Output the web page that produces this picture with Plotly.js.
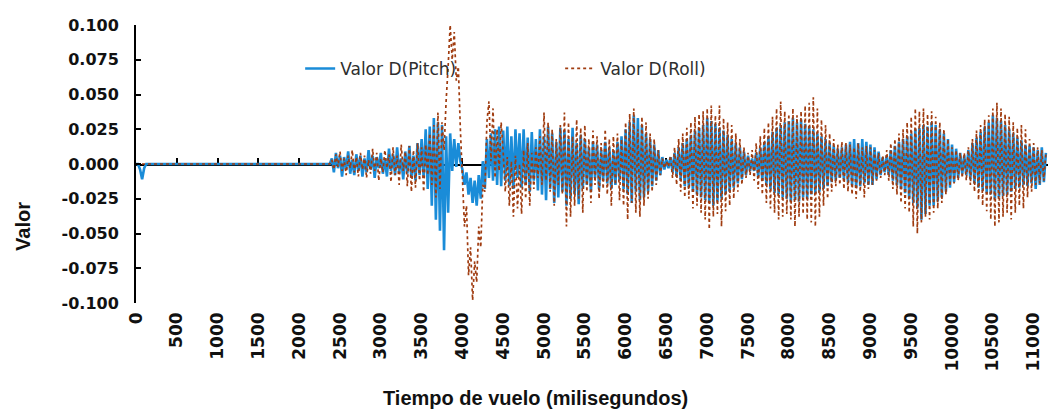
<!DOCTYPE html>
<html>
<head>
<meta charset="utf-8">
<script src="https://cdn.plot.ly/plotly-3.0.1.min.js"></script>
<style>html,body{margin:0;padding:0;background:#fff;}#chart{width:1048px;height:414px;}</style>
</head>
<body>
<div id="chart"></div>
<script>
// Sample spacing of the flight log (milliseconds)
const sampleStart = 0;
const sampleStep = 25;

const seriesNames = ["Valor D(Pitch)", "Valor D(Roll)"];

// ---- Valor D (Pitch) ----
const pitchIdle = [
0,0,-0.004,-0.011,-0.003,0,0,0,0,0,
0,0,0,0,0,0,0,0,0,0,
0,0,0,0,0,0,0,0,0,0,
0,0,0,0,0,0,0,0,0,0,
0,0,0,0,0,0,0,0,0,0,
0,0,0,0,0,0,0,0,0,0,
0,0,0,0,0,0,0,0,0,0,
0,0,0,0,0,0,0,0,0,0,
0,0,0,0,0,0,0,0,0,0,
0,0,0,0,0,0
];
const pitchNoise = [
0.004,-0.006,0.008,-0.003,0.006,-0.009,0.005,-0.004,0.009,-0.007,
0.003,-0.008,0.007,-0.005,0.006,-0.009,0.004,-0.006,0.010,-0.004,
0.006,-0.010,0.005,-0.003,0.008,-0.007,0.004,-0.009,0.011,-0.005,
0.007,-0.008,0.012,-0.006,0.004,-0.011,0.009,-0.007,0.013,-0.010,
0.006,-0.012,0.015,-0.008
];
const pitchBurst = [
0.018,-0.010,0.025,-0.018,0.027,-0.030,0.033,-0.040,0.030,-0.048,
0.028,-0.062,0.020,-0.035,0.022,-0.005,0.018,-0.002,0.015,0.002,
-0.004,-0.015,-0.006,-0.022,-0.010,-0.028,-0.012,-0.030,-0.008,-0.025,
0.002,-0.018,0.018,-0.010,0.022,-0.012,0.025,-0.015,0.027,-0.016
];
const pitchOsc = [
0.024,-0.012,0.027,-0.016,0.020,-0.018,0.025,-0.010,0.022,-0.017,
0.025,-0.014,0.019,-0.020,0.023,-0.012,0.018,-0.019,0.025,-0.022,
0.020,-0.026,0.027,-0.018,0.022,-0.028,0.016,-0.024,0.026,-0.020,
0.024,-0.030,0.018,-0.025,0.026,-0.022,0.015,-0.029,0.021,-0.018,
0.018,-0.015,0.012,-0.020,0.016,-0.010,0.014,-0.018,0.010,-0.012,
0.016,-0.014,0.012,-0.018,0.009,-0.015,0.016,-0.012,0.020,-0.018,
0.025,-0.022,0.030,-0.028,0.035,-0.020,0.033,-0.026,0.028,-0.024,
0.022,-0.020,0.018,-0.016,0.014,-0.012,0.010,-0.008,0.005,-0.004,
0.003,-0.003,0.005,-0.006,0.008,-0.009,0.012,-0.011,0.015,-0.016,
0.018,-0.017,0.021,-0.020,0.024,-0.022,0.026,-0.024,0.028,-0.026,
0.033,-0.028,0.031,-0.030,0.029,-0.027,0.026,-0.025,0.024,-0.022,
0.021,-0.020,0.018,-0.017,0.015,-0.014,0.012,-0.011,0.009,-0.008,
0.006,-0.005,0.004,-0.005,0.008,-0.009,0.012,-0.012,0.016,-0.015,
0.020,-0.018,0.023,-0.021,0.026,-0.022,0.028,-0.024,0.030,-0.025,
0.031,-0.027,0.033,-0.026,0.030,-0.027,0.032,-0.024,0.029,-0.025,
0.027,-0.022,0.025,-0.021,0.022,-0.020,0.020,-0.018,0.018,-0.016,
0.015,-0.013,0.013,-0.012,0.011,-0.010,0.012,-0.011,0.014,-0.013,
0.016,-0.015,0.018,-0.017,0.015,-0.016,0.018,-0.014,0.016,-0.015,
0.014,-0.015,0.012,-0.011,0.009,-0.008,0.005,-0.006,0.006,-0.008,
0.010,-0.012,0.013,-0.015,0.016,-0.018,0.018,-0.021,0.020,-0.025,
0.022,-0.028,0.025,-0.032,0.026,-0.040,0.028,-0.036,0.027,-0.030,
0.030,-0.030,0.028,-0.027,0.025,-0.024,0.022,-0.020,0.018,-0.017,
0.014,-0.013,0.011,-0.010,0.008,-0.007,0.006,-0.008,0.010,-0.011,
0.015,-0.014,0.019,-0.017,0.023,-0.019,0.027,-0.021,0.030,-0.022,
0.035,-0.025,0.033,-0.024,0.031,-0.023,0.028,-0.022,0.025,-0.020,
0.022,-0.018,0.019,-0.017,0.017,-0.015,0.014,-0.016,0.013,-0.014,
0.012,-0.018,0.010,-0.015,0.012,-0.013,0.008
];

// ---- Valor D (Roll) ----
const rollIdle = [
0,0,0,0,0,0,0,0,0,0,
0,0,0,0,0,0,0,0,0,0,
0,0,0,0,0,0,0,0,0,0,
0,0,0,0,0,0,0,0,0,0,
0,0,0,0,0,0,0,0,0,0,
0,0,0,0,0,0,0,0,0,0,
0,0,0,0,0,0,0,0,0,0,
0,0,0,0,0,0,0,0,0,0,
0,0,0,0,0,0,0,0,0,0,
0,0,0,0,0,0
];
const rollNoise = [
0.003,-0.004,0.007,-0.002,0.009,-0.005,0.004,-0.008,0.006,-0.003,
0.010,-0.006,0.005,-0.009,0.008,-0.004,0.006,-0.010,0.003,-0.007,
0.011,-0.005,0.008,-0.012,0.004,-0.006,0.010,-0.003,0.007,-0.013,
0.012,-0.008,0.006,-0.015,0.014,-0.005,0.009,-0.016,0.013,-0.020,
0.010,-0.017,0.015,-0.012
];
const rollBurst = [
0.012,-0.020,0.014,-0.008,0.022,-0.015,0.028,-0.024,0.037,-0.018,
0.030,0.010,0.045,0.070,0.100,0.075,0.095,0.060,0.070,0.025,
-0.010,-0.045,-0.030,-0.080,-0.060,-0.098,-0.070,-0.085,-0.045,-0.060,
-0.015,-0.020,0.030,0.045,0.002,0.040,-0.010,0.025,-0.005,0.030
];
const rollOsc = [
0.008,-0.020,0.005,-0.030,0.002,-0.038,0.006,-0.032,0.000,-0.036,
0.010,-0.025,0.015,-0.030,0.008,-0.018,0.012,-0.010,0.020,-0.015,
0.037,-0.012,0.030,-0.020,0.025,-0.030,0.018,-0.015,0.028,-0.022,
0.037,-0.045,0.030,-0.038,0.020,-0.030,0.032,-0.025,0.026,-0.035,
0.028,-0.020,0.018,-0.028,0.024,-0.015,0.020,-0.025,0.015,-0.018,
0.025,-0.022,0.018,-0.030,0.020,-0.015,0.022,-0.026,0.018,-0.030,
0.030,-0.040,0.036,-0.028,0.040,-0.035,0.025,-0.038,0.034,-0.030,
0.030,-0.025,0.022,-0.020,0.018,-0.015,0.010,-0.008,0.004,-0.003,
0.002,-0.002,0.006,-0.010,0.012,-0.015,0.018,-0.020,0.022,-0.024,
0.026,-0.025,0.030,-0.032,0.034,-0.030,0.036,-0.035,0.038,-0.040,
0.040,-0.047,0.042,-0.038,0.035,-0.036,0.042,-0.045,0.033,-0.034,
0.030,-0.030,0.028,-0.025,0.022,-0.020,0.018,-0.015,0.012,-0.010,
0.008,-0.008,0.010,-0.012,0.015,-0.018,0.020,-0.022,0.026,-0.028,
0.030,-0.032,0.034,-0.035,0.040,-0.040,0.045,-0.038,0.038,-0.036,
0.036,-0.040,0.040,-0.045,0.035,-0.038,0.038,-0.036,0.042,-0.040,
0.044,-0.042,0.048,-0.045,0.040,-0.038,0.032,-0.030,0.028,-0.025,
0.022,-0.020,0.018,-0.016,0.014,-0.015,0.016,-0.018,0.015,-0.020,
0.014,-0.022,0.012,-0.025,0.015,-0.020,0.012,-0.024,0.013,-0.018,
0.012,-0.015,0.010,-0.012,0.008,-0.010,0.006,-0.008,0.010,-0.012,
0.015,-0.018,0.018,-0.022,0.022,-0.028,0.025,-0.032,0.030,-0.035,
0.034,-0.045,0.040,-0.050,0.038,-0.042,0.040,-0.038,0.036,-0.040,
0.038,-0.035,0.034,-0.032,0.030,-0.028,0.025,-0.022,0.018,-0.016,
0.012,-0.014,0.010,-0.012,0.008,-0.010,0.008,-0.012,0.012,-0.015,
0.018,-0.020,0.024,-0.026,0.028,-0.030,0.032,-0.034,0.035,-0.040,
0.040,-0.045,0.044,-0.042,0.040,-0.038,0.036,-0.035,0.034,-0.040,
0.030,-0.035,0.026,-0.030,0.028,-0.032,0.025,-0.024,0.018,-0.020,
0.015,-0.015,0.012,-0.014,0.010,-0.012,0.008
];

// Axis tick labels
const yTickVals = [-0.1,-0.075,-0.05,-0.025,0,0.025,0.05,0.075,0.1];
const yTickText = ["-0.100","-0.075","-0.050","-0.025","0.000","0.025","0.050","0.075","0.100"];
const xTickStart = 0;
const xTickStep = 500;

const pitch = pitchIdle.concat(pitchNoise, pitchBurst, pitchOsc);
const roll = rollIdle.concat(rollNoise, rollBurst, rollOsc);

const xRange = [0, 11176];
const tickFont = {family: "DejaVu Sans", size: 16, weight: "bold", color: "#111111"};

const traces = [
  {
    type: "scatter", mode: "lines", name: seriesNames[0],
    x0: sampleStart, dx: sampleStep, y: pitch,
    line: {color: "#1a8cd8", width: 2.6, simplify: false},
    hoverinfo: "skip"
  },
  {
    type: "scatter", mode: "lines", name: seriesNames[1],
    x0: sampleStart, dx: sampleStep, y: roll,
    line: {color: "#a03c10", width: 1.7, dash: "dot", simplify: false},
    hoverinfo: "skip"
  },
  {
    type: "scatter", mode: "lines", x: [], y: [], xaxis: "x2", yaxis: "y",
    showlegend: false, hoverinfo: "skip"
  }
];

const layout = {
  width: 1048, height: 414,
  margin: {l: 136, r: 0, t: 25, b: 111},
  paper_bgcolor: "#ffffff", plot_bgcolor: "#ffffff",
  showlegend: true,
  legend: {
    orientation: "h", x: 0.18, y: 0.842, xanchor: "left", yanchor: "middle",
    bgcolor: "rgba(0,0,0,0)", font: {family: "DejaVu Sans", size: 17, color: "#2e2e2e"},
    entrywidth: 215, entrywidthmode: "pixels"
  },
  xaxis: {
    range: xRange, tick0: xTickStart, dtick: xTickStep, tickmode: "linear",
    tickangle: -90, tickformat: "d", ticks: "", showline: false, showgrid: false,
    zeroline: false, tickfont: {family: "DejaVu Sans", size: 17, weight: "bold", color: "#111111"},
    ticklabelstandoff: 5
  },
  xaxis2: {
    overlaying: "x", anchor: "free", position: 0.5, side: "bottom",
    range: xRange, tick0: xTickStart, dtick: xTickStep, tickmode: "linear",
    ticks: "inside", ticklen: 6, tickwidth: 2, tickcolor: "#000000",
    showline: true, linecolor: "#000000", linewidth: 1.5,
    showticklabels: false, showgrid: false, zeroline: false, layer: "below traces"
  },
  yaxis: {
    range: [-0.1, 0.1], tickmode: "array", tickvals: yTickVals, ticktext: yTickText,
    ticks: "inside", ticklen: 5, tickwidth: 2, tickcolor: "#000000",
    showline: true, linecolor: "#000000", linewidth: 2,
    showgrid: false, zeroline: false, tickfont: tickFont, ticklabelstandoff: 12
  },
  annotations: [
    {
      text: "Valor", xref: "paper", yref: "paper", x: -0.124, y: 0.277,
      xanchor: "center", yanchor: "middle", textangle: -90, showarrow: false,
      font: {family: "Liberation Sans", size: 20, weight: "bold", color: "#111111"}
    },
    {
      text: "Tiempo de vuelo (milisegundos)", xref: "paper", yref: "paper",
      x: 0.4375, y: -0.342, xanchor: "center", yanchor: "middle", showarrow: false,
      font: {family: "Liberation Sans", size: 20, weight: "bold", color: "#111111"}
    }
  ]
};

Plotly.newPlot("chart", traces, layout, {staticPlot: true, displayModeBar: false});
</script>
</body>
</html>
